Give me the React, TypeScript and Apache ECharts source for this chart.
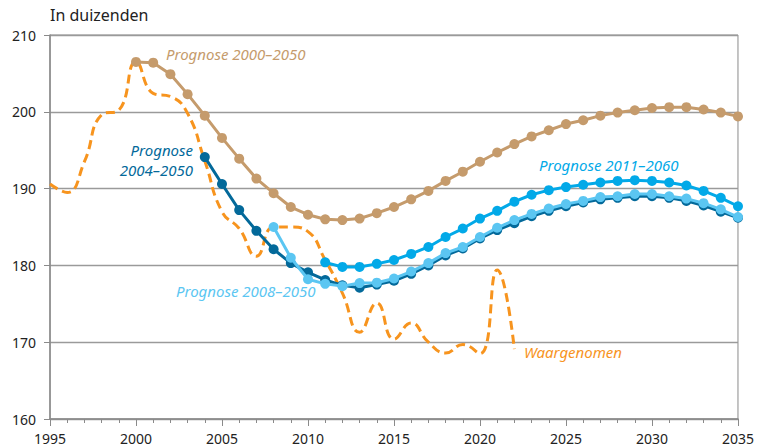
import React, { useEffect, useRef } from "react";
import * as echarts from "echarts";

const yTicks = [160, 170, 180, 190, 200, 210];
const xTicks = [1995, 2000, 2005, 2010, 2015, 2020, 2025, 2030, 2035];

const obsYears = [1995, 1996, 1997, 1998, 1999, 2000, 2001, 2002, 2003, 2004, 2005, 2006, 2007, 2008, 2009, 2010, 2011, 2012, 2013, 2014, 2015, 2016, 2017, 2018, 2019, 2020, 2021, 2022];
const obsValues = [190.6, 189.5, 193.5, 199.6, 200.2, 206.5, 202.4, 202.0, 199.8, 193.6, 187.0, 184.8, 181.2, 185.0, 185.0, 184.4, 180.7, 176.4, 171.3, 175.1, 170.4, 172.5, 170.0, 168.6, 169.7, 168.5, 179.4, 169.1];

const p2000Years = [2000, 2001, 2002, 2003, 2004, 2005, 2006, 2007, 2008, 2009, 2010, 2011, 2012, 2013, 2014, 2015, 2016, 2017, 2018, 2019, 2020, 2021, 2022, 2023, 2024, 2025, 2026, 2027, 2028, 2029, 2030, 2031, 2032, 2033, 2034, 2035];
const p2000Values = [206.5, 206.4, 204.9, 202.3, 199.5, 196.6, 193.9, 191.3, 189.4, 187.6, 186.6, 186.0, 185.9, 186.1, 186.8, 187.6, 188.6, 189.7, 191.0, 192.2, 193.5, 194.7, 195.8, 196.8, 197.6, 198.4, 198.9, 199.5, 199.9, 200.2, 200.5, 200.6, 200.6, 200.3, 199.9, 199.4];

const p2004Years = [2004, 2005, 2006, 2007, 2008, 2009, 2010, 2011, 2012, 2013, 2014, 2015, 2016, 2017, 2018, 2019, 2020, 2021, 2022, 2023, 2024, 2025, 2026, 2027, 2028, 2029, 2030, 2031, 2032, 2033, 2034, 2035];
const p2004Values = [194.1, 190.6, 187.2, 184.5, 182.1, 180.3, 179.1, 178.1, 177.4, 177.1, 177.5, 178.0, 178.9, 180.0, 181.3, 182.2, 183.5, 184.6, 185.5, 186.4, 187.1, 187.7, 188.2, 188.6, 188.8, 189.0, 189.0, 188.8, 188.4, 187.8, 187.0, 186.2];

const p2008Years = [2008, 2009, 2010, 2011, 2012, 2013, 2014, 2015, 2016, 2017, 2018, 2019, 2020, 2021, 2022, 2023, 2024, 2025, 2026, 2027, 2028, 2029, 2030, 2031, 2032, 2033, 2034, 2035];
const p2008Values = [185.0, 181.0, 178.2, 177.6, 177.3, 177.7, 177.75, 178.3, 179.2, 180.3, 181.6, 182.4, 183.7, 184.9, 185.9, 186.7, 187.4, 188.0, 188.4, 188.9, 189.0, 189.3, 189.3, 189.0, 188.7, 188.1, 187.3, 186.3];

const p2011Years = [2011, 2012, 2013, 2014, 2015, 2016, 2017, 2018, 2019, 2020, 2021, 2022, 2023, 2024, 2025, 2026, 2027, 2028, 2029, 2030, 2031, 2032, 2033, 2034, 2035];
const p2011Values = [180.4, 179.8, 179.8, 180.2, 180.7, 181.5, 182.4, 183.7, 184.8, 186.1, 187.1, 188.3, 189.2, 189.8, 190.2, 190.5, 190.8, 191.0, 191.1, 191.0, 190.8, 190.4, 189.7, 188.8, 187.7];

const C_TAN = "#C59B6C";
const C_DARK = "#03699A";
const C_BLUE = "#02A9E8";
const C_LIGHT = "#5BC6F2";
const C_ORANGE = "#F7941E";
const FONT = "'Noto Sans', sans-serif";

const pairs = (xs: number[], ys: number[]) => xs.map((x, i) => [x, ys[i]]);

function dotLine(name: string, xs: number[], ys: number[], color: string, z: number) {
  return {
    name,
    type: "line",
    data: pairs(xs, ys),
    symbol: "circle",
    symbolSize: 10,
    z,
    lineStyle: { color, width: 3 },
    itemStyle: { color },
  };
}

export default function App() {
  const ref = useRef<HTMLDivElement>(null);
  useEffect(() => {
    if (!ref.current) return;
    const chart = echarts.init(ref.current, undefined, { renderer: "svg" });
    const labelStyle = (color: string) => ({ fill: color, font: `italic 15px ${FONT}` });
    chart.setOption({
      animation: false,
      grid: { left: 50, right: 18, top: 35, bottom: 29, show: true, borderColor: "#8a8a8a", borderWidth: 1 },
      xAxis: {
        type: "value",
        min: 1995,
        max: 2035,
        interval: 5,
        axisLine: { show: true, lineStyle: { color: "#8a8a8a", width: 1.5 } },
        axisTick: { show: true, length: 7, lineStyle: { color: "#8a8a8a" } },
        minorTick: { show: true, splitNumber: 5, length: 4, lineStyle: { color: "#8a8a8a" } },
        splitLine: { show: false },
        axisLabel: { formatter: (v: number) => (xTicks.includes(v) ? String(v) : ""), color: "#222", fontSize: 14, fontFamily: FONT, margin: 12 },
      },
      yAxis: {
        type: "value",
        min: yTicks[0],
        max: yTicks[yTicks.length - 1],
        interval: 10,
        axisLine: { show: true, lineStyle: { color: "#8a8a8a", width: 1.5 } },
        axisTick: { show: true, length: 6, lineStyle: { color: "#8a8a8a" } },
        splitLine: { show: true, lineStyle: { color: "#9a9a9a", width: 1.3 } },
        axisLabel: { formatter: (v: number) => String(v), color: "#222", fontSize: 14, fontFamily: FONT, margin: 14 },
      },
      series: [
        {
          name: "Waargenomen",
          type: "line",
          data: pairs(obsYears, obsValues),
          smooth: 0.5,
          symbol: "none",
          z: 1,
          lineStyle: { color: C_ORANGE, width: 3, type: [9, 5] },
        },
        dotLine("Prognose 2000–2050", p2000Years, p2000Values, C_TAN, 2),
        dotLine("Prognose 2004–2050", p2004Years, p2004Values, C_DARK, 3),
        dotLine("Prognose 2011–2060", p2011Years, p2011Values, C_BLUE, 4),
        dotLine("Prognose 2008–2050", p2008Years, p2008Values, C_LIGHT, 5),
      ],
      graphic: [
        { type: "text", left: 50, top: 7, style: { text: "In duizenden", fill: "#222", font: `16px ${FONT}` } },
        { type: "text", left: 166, top: 46, style: { text: "Prognose 2000–2050", ...labelStyle(C_TAN) } },
        { type: "text", right: 757 - 193, top: 142, style: { text: "Prognose", ...labelStyle(C_DARK) } },
        { type: "text", right: 757 - 193, top: 162, style: { text: "2004–2050", ...labelStyle(C_DARK) } },
        { type: "text", left: 539, top: 157, style: { text: "Prognose 2011–2060", ...labelStyle(C_BLUE) } },
        { type: "text", left: 176, top: 283, style: { text: "Prognose 2008–2050", ...labelStyle(C_LIGHT) } },
        { type: "text", left: 524, top: 344, style: { text: "Waargenomen", ...labelStyle(C_ORANGE) } },
      ],
    });
    return () => chart.dispose();
  }, []);
  return <div ref={ref} style={{ width: 757, height: 448, position: "absolute", left: 0, top: 0 }} />;
}
